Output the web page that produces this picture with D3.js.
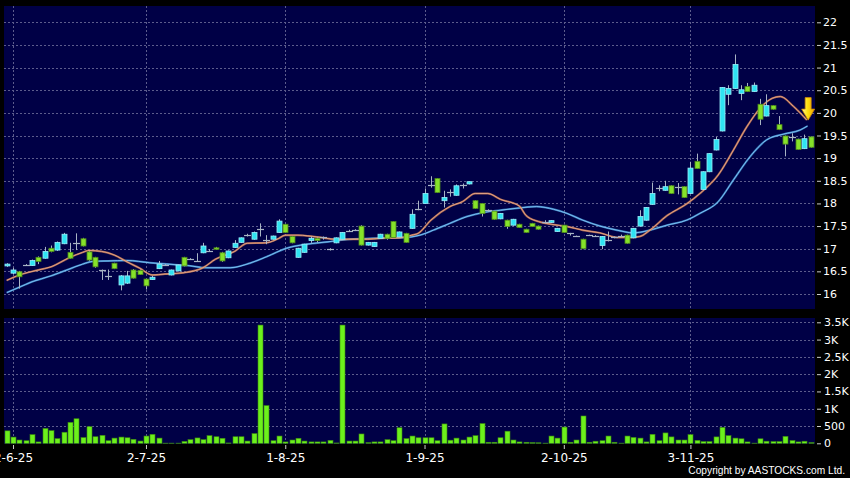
<!DOCTYPE html>
<html><head><meta charset="utf-8">
<script src="https://cdn.jsdelivr.net/npm/d3@7"></script>
<style>html,body{margin:0;padding:0;background:#000;}svg{display:block;}</style>
</head><body>
<svg id="chart" width="850" height="478"></svg>
<script>
// ---------- DATA ----------
const open  = [16.62,16.46,16.49,16.64,16.63,16.81,16.79,17.01,16.97,17.11,16.92,17.12,17.22,16.93,16.81,16.52,16.39,16.68,16.20,16.24,
16.53,16.52,16.33,16.32,16.56,16.64,16.42,16.51,16.81,16.77,16.73,16.91,16.96,17.02,16.91,16.80,17.03,17.14,17.30,17.21,
17.43,17.20,17.21,17.36,17.54,17.27,16.81,16.92,17.18,17.23,17.25,16.99,17.13,17.21,17.40,17.41,17.50,17.08,17.05,17.23,
17.32,17.60,17.26,17.34,17.45,17.87,18.00,18.40,18.55,18.06,18.26,18.18,18.40,18.43,18.06,18.00,17.85,17.83,17.66,17.63,
17.52,17.54,17.43,17.56,17.50,17.60,17.58,17.38,17.52,17.34,17.28,17.21,17.30,17.29,17.07,17.19,17.25,17.29,17.30,17.24,
17.50,17.63,17.98,18.33,18.29,18.39,18.37,18.37,18.22,18.93,18.31,18.70,19.18,19.60,20.41,20.54,20.43,20.58,20.47,20.19,
19.93,20.16,19.74,19.49,19.46,19.42,19.21,19.47];
const high  = [16.68,16.58,16.51,16.66,16.76,16.83,17.04,17.07,17.16,17.35,17.13,17.34,17.24,16.95,16.82,16.54,16.54,16.69,16.42,16.51,
16.55,16.54,16.34,16.40,16.73,16.66,16.54,16.65,16.82,16.79,16.90,17.13,16.99,17.04,16.93,16.96,17.19,17.25,17.33,17.38,
17.56,17.30,17.29,17.65,17.55,17.28,17.02,17.11,17.27,17.25,17.27,17.01,17.25,17.37,17.42,17.43,17.52,17.15,17.15,17.33,
17.33,17.61,17.38,17.35,17.87,18.06,18.33,18.60,18.56,18.28,18.31,18.42,18.44,18.49,18.07,18.01,17.87,17.84,17.79,17.64,
17.66,17.55,17.44,17.57,17.51,17.63,17.63,17.46,17.53,17.35,17.29,17.22,17.31,17.30,17.28,17.38,17.27,17.31,17.31,17.46,
17.85,17.92,18.46,18.40,18.50,18.40,18.45,18.38,18.92,19.10,18.71,19.11,19.47,20.57,20.61,21.29,20.61,20.66,20.67,20.31,
20.41,20.17,19.93,19.50,19.55,19.43,19.52,19.48];
const low   = [16.60,16.44,16.12,16.62,16.62,16.66,16.78,16.92,16.95,17.10,16.78,16.97,17.05,16.73,16.58,16.31,16.31,16.55,16.08,16.22,
16.34,16.42,16.10,16.31,16.55,16.62,16.41,16.50,16.61,16.75,16.72,16.90,16.93,16.98,16.71,16.79,17.02,17.13,17.27,17.20,
17.27,17.10,17.20,17.35,17.35,17.12,16.80,16.91,17.13,17.14,17.20,16.96,17.12,17.20,17.38,17.39,17.07,17.07,17.04,17.22,
17.20,17.24,17.25,17.13,17.44,17.85,17.99,18.35,18.23,17.91,18.15,18.17,18.33,18.42,17.88,17.71,17.82,17.64,17.65,17.44,
17.51,17.46,17.35,17.48,17.42,17.56,17.57,17.37,17.35,17.29,17.26,16.99,17.28,17.27,16.99,17.16,17.23,17.27,17.11,17.23,
17.49,17.62,17.97,18.27,18.28,18.21,18.20,18.12,18.21,18.76,18.30,18.69,19.17,19.59,20.17,20.53,20.28,20.46,20.46,19.73,
19.92,20.07,19.62,19.04,19.37,19.18,19.20,19.23];
const close = [16.66,16.53,16.38,16.64,16.74,16.72,16.94,16.94,17.14,17.32,16.79,17.12,17.06,16.75,16.60,16.52,16.39,16.56,16.40,16.40,
16.35,16.43,16.18,16.37,16.66,16.64,16.53,16.64,16.62,16.77,16.73,17.06,16.96,16.99,16.73,16.95,17.12,17.24,17.30,17.36,
17.43,17.20,17.28,17.61,17.36,17.13,17.01,17.10,17.23,17.18,17.25,16.99,17.24,17.36,17.40,17.41,17.08,17.14,17.14,17.32,
17.23,17.25,17.37,17.14,17.76,17.87,18.22,18.40,18.24,18.13,18.26,18.39,18.40,18.48,17.89,17.78,17.85,17.65,17.78,17.49,
17.65,17.47,17.36,17.49,17.43,17.60,17.62,17.45,17.36,17.34,17.28,17.00,17.30,17.29,17.27,17.19,17.25,17.29,17.12,17.45,
17.71,17.91,18.22,18.33,18.37,18.22,18.37,18.13,18.78,18.77,18.70,19.10,19.41,20.56,20.54,21.07,20.51,20.47,20.61,19.86,
20.16,20.08,19.63,19.31,19.46,19.19,19.43,19.24];
const volume = [360,180,95,75,250,40,430,365,135,320,605,710,165,480,190,230,75,150,180,160,
115,65,210,260,150,5,5,5,55,105,155,105,220,190,145,10,190,190,65,280,
3420,1090,75,210,40,95,145,65,40,40,40,85,10,3420,65,65,270,20,40,40,
105,75,450,135,210,160,160,160,75,560,90,150,95,180,220,570,30,30,160,350,
95,40,30,20,15,5,210,150,470,30,95,790,30,60,75,210,30,5,210,170,
150,40,260,75,300,185,95,95,250,85,50,50,185,460,220,150,130,40,5,130,
60,50,50,200,80,40,60,20];
// moving averages (sampled: candle index, value)
const maShortIdx = [0,2,5,7,10,12,13,15,17,19,21,23,25,28,31,33,36,38,41,43,44,46,49,52,54,57,59,62,64,65,67,70,72,74,76,78,81,82,84,86,88.5,91,93.7,96.4,98.5,100,101.6,104.3,107.4,109.5,112.4,114.8,116.9,119,120.9,122.2,124.3,126.4];
const maShortVal = [16.30,16.42,16.53,16.60,16.81,16.92,16.96,16.94,16.86,16.71,16.57,16.42,16.44,16.47,16.58,16.77,16.94,17.12,17.13,17.23,17.30,17.30,17.26,17.21,17.21,17.21,17.23,17.24,17.30,17.34,17.63,17.93,18.04,18.22,18.22,18.09,17.94,17.74,17.60,17.54,17.49,17.41,17.35,17.25,17.25,17.27,17.41,17.73,17.99,18.22,18.63,19.18,19.69,20.10,20.32,20.36,20.14,19.84];
const maLongIdx = [0,2,4,7,9.5,12,13.6,16,19,22.6,25.3,28.5,31.6,35.3,38.4,41,44.2,47.4,50.6,54.2,57.9,62.2,65.3,67.4,70,72.7,75.3,78,81,83.7,86.4,88.5,91,93.7,96.4,99,101,104.3,107.4,109.5,112.4,114.8,117.4,120,122.7,125.3,126.5];
const maLongVal = [16.03,16.15,16.27,16.40,16.53,16.66,16.72,16.73,16.74,16.69,16.66,16.63,16.58,16.58,16.68,16.82,17.01,17.10,17.15,17.21,17.23,17.24,17.30,17.41,17.56,17.71,17.80,17.85,17.90,17.93,17.87,17.78,17.63,17.50,17.41,17.35,17.39,17.52,17.63,17.78,18.04,18.52,19.03,19.40,19.53,19.62,19.71];
const dateTickIdx = [1,22,44,66,88,108];
const dateTickLabels = ["2-6-25","2-7-25","1-8-25","1-9-25","2-10-25","3-11-25"];
const priceTicks = [16,16.5,17,17.5,18,18.5,19,19.5,20,20.5,21,21.5,22];
const priceTickLabels = ["16","16.5","17","17.5","18","18.5","19","19.5","20","20.5","21","21.5","22"];
const volTicks = [0,500,1000,1500,2000,2500,3000,3500];
const volTickLabels = ["0","500","1K","1.5K","2K","2.5K","3K","3.5K"];
const arrowAt = {i:126.6, v:19.84};

// ---------- DRAW ----------
const svg = d3.select("#chart");
const W = 850, H = 478;
svg.append("rect").attr("width",W).attr("height",H).attr("fill","#000");

const P = {x0:4, x1:815, y0:6, y1:309};   // price panel
const V = {x0:4, x1:815, y0:318, y1:444}; // volume panel

const x = d3.scaleLinear().domain([0,127]).range([6.7,810.7]);
const y = d3.scaleLinear().domain([16,22]).range([294,22.3]);
const yv = d3.scaleLinear().domain([0,3500]).range([443.3,322.3]);

const panelFill = "#000046";
const gridColor = "#5c5c8c";
const textColor = "#ffffff";
const font = "'DejaVu Sans', sans-serif";

const defs = svg.append("defs");
defs.append("clipPath").attr("id","clipP").append("rect")
  .attr("x",P.x0).attr("y",P.y0).attr("width",P.x1-P.x0).attr("height",P.y1-P.y0);
defs.append("clipPath").attr("id","clipV").append("rect")
  .attr("x",V.x0).attr("y",V.y0).attr("width",V.x1-V.x0).attr("height",V.y1-V.y0);
const grad = defs.append("linearGradient").attr("id","arrowGrad").attr("x1","0").attr("x2","1").attr("y1","0").attr("y2","0");
grad.append("stop").attr("offset","0").attr("stop-color","#fff59a");
grad.append("stop").attr("offset","0.45").attr("stop-color","#ffe010");
grad.append("stop").attr("offset","1").attr("stop-color","#f0a000");

// panels
[P,V].forEach(p=>{
  svg.append("rect").attr("x",p.x0).attr("y",p.y0).attr("width",p.x1-p.x0).attr("height",p.y1-p.y0).attr("fill",panelFill);
});

// grid: price
const gP = svg.append("g").attr("clip-path","url(#clipP)");
gP.selectAll("line.h").data(priceTicks).join("line")
  .attr("x1",P.x0).attr("x2",P.x1).attr("y1",d=>Math.round(y(d))+0.5).attr("y2",d=>Math.round(y(d))+0.5)
  .attr("stroke",gridColor).attr("stroke-width",1).attr("stroke-dasharray","2,2");
gP.selectAll("line.v").data(dateTickIdx).join("line")
  .attr("y1",P.y0).attr("y2",P.y1).attr("x1",d=>Math.round(x(d))+0.5).attr("x2",d=>Math.round(x(d))+0.5)
  .attr("stroke",gridColor).attr("stroke-width",1).attr("stroke-dasharray","2,2");
// grid: volume
const gV = svg.append("g").attr("clip-path","url(#clipV)");
gV.selectAll("line.h").data(volTicks.slice(1)).join("line")
  .attr("x1",V.x0).attr("x2",V.x1).attr("y1",d=>Math.round(yv(d))+0.5).attr("y2",d=>Math.round(yv(d))+0.5)
  .attr("stroke",gridColor).attr("stroke-width",1).attr("stroke-dasharray","2,2");
gV.selectAll("line.v").data(dateTickIdx).join("line")
  .attr("y1",V.y0).attr("y2",V.y1).attr("x1",d=>Math.round(x(d))+0.5).attr("x2",d=>Math.round(x(d))+0.5)
  .attr("stroke",gridColor).attr("stroke-width",1).attr("stroke-dasharray","2,2");

// moving averages
const lineGen = d3.line().x(d=>x(d[0])).y(d=>y(d[1])).curve(d3.curveMonotoneX);
const maS = maShortIdx.map((d,k)=>[d,maShortVal[k]]);
const maL = maLongIdx.map((d,k)=>[d,maLongVal[k]]);
[[maL,"#3d8fd0","#8fd0ff"],[maS,"#c87850","#f0b090"]].forEach(([pts,outer,inner])=>{
  gP.append("path").datum(pts).attr("d",lineGen).attr("fill","none").attr("stroke",outer).attr("stroke-width",2).attr("stroke-opacity",0.8);
  gP.append("path").datum(pts).attr("d",lineGen).attr("fill","none").attr("stroke",inner).attr("stroke-width",0.8);
});

// candles
const candles = d3.range(open.length).map(i=>({i,o:open[i],h:high[i],l:low[i],c:close[i]}));
const bw = 5;
const cg = gP.append("g");
cg.selectAll("line.wick").data(candles).join("line")
  .attr("x1",d=>Math.round(x(d.i))+0.5).attr("x2",d=>Math.round(x(d.i))+0.5)
  .attr("y1",d=>y(d.h)).attr("y2",d=>y(d.l))
  .attr("stroke","#a8b4c4").attr("stroke-width",1);
cg.selectAll("rect.body").data(candles.filter(d=>d.o!==d.c)).join("rect")
  .attr("x",d=>Math.round(x(d.i))-2).attr("width",bw)
  .attr("y",d=>y(Math.max(d.o,d.c))).attr("height",d=>Math.max(1.5,Math.abs(y(d.o)-y(d.c))))
  .attr("fill",d=>d.c>d.o?"#2fe3f2":"#86e22a")
  .attr("stroke",d=>d.c>d.o?"#9aeefa":"#4e8a1a").attr("stroke-width",0.8);
cg.selectAll("line.doji").data(candles.filter(d=>d.o===d.c)).join("line")
  .attr("x1",d=>Math.round(x(d.i))-3).attr("x2",d=>Math.round(x(d.i))+4)
  .attr("y1",d=>Math.round(y(d.c))+0.5).attr("y2",d=>Math.round(y(d.c))+0.5)
  .attr("stroke","#a8b4c4").attr("stroke-width",1.2);

// arrow
const ax = x(arrowAt.i), ay = y(arrowAt.v);
svg.append("path")
  .attr("d",`M${ax},${ay} L${ax-6.5},${ay-11} L${ax-3},${ay-11} L${ax-3},${ay-22.5} L${ax+3},${ay-22.5} L${ax+3},${ay-11} L${ax+6.5},${ay-11} Z`)
  .attr("fill","url(#arrowGrad)").attr("stroke","#d08a00").attr("stroke-width",0.8);

// volume bars
gV.selectAll("rect.vol").data(volume.map((v,i)=>({i,v}))).join("rect")
  .attr("x",d=>Math.round(x(d.i))-2).attr("width",bw)
  .attr("y",d=>yv(d.v)).attr("height",d=>Math.max(0,yv(0)-yv(d.v)))
  .attr("fill","#6cf01c").attr("stroke","#3c8a10").attr("stroke-width",0.6);

// axes
function styleAxis(g, size){
  g.select(".domain").remove();
  g.selectAll(".tick line").attr("stroke","#cccccc");
  g.selectAll(".tick text").attr("fill",textColor).attr("font-family",font).attr("font-size",size);
}
const yAxis = d3.axisRight(y).tickValues(priceTicks).tickFormat((d,k)=>priceTickLabels[k]).tickSize(4).tickPadding(2);
svg.append("g").attr("transform","translate(817,0)").call(yAxis).call(g=>styleAxis(g,11));
const vAxis = d3.axisRight(yv).tickValues(volTicks).tickFormat((d,k)=>volTickLabels[k]).tickSize(4).tickPadding(3);
svg.append("g").attr("transform","translate(817,0)").call(vAxis).call(g=>styleAxis(g,11));
const xAxis = d3.axisBottom(x).tickValues(dateTickIdx).tickFormat((d,k)=>dateTickLabels[k]).tickSize(4).tickPadding(4);
svg.append("g").attr("transform",`translate(0,${V.y1+1})`).call(xAxis).call(g=>styleAxis(g,12));

// copyright
svg.append("text").attr("x",845).attr("y",474).attr("text-anchor","end")
  .attr("fill",textColor).attr("font-family","'Liberation Sans', Arial, sans-serif").attr("font-size",10.2)
  .text("Copyright by AASTOCKS.com Ltd.");
</script>
</body></html>
